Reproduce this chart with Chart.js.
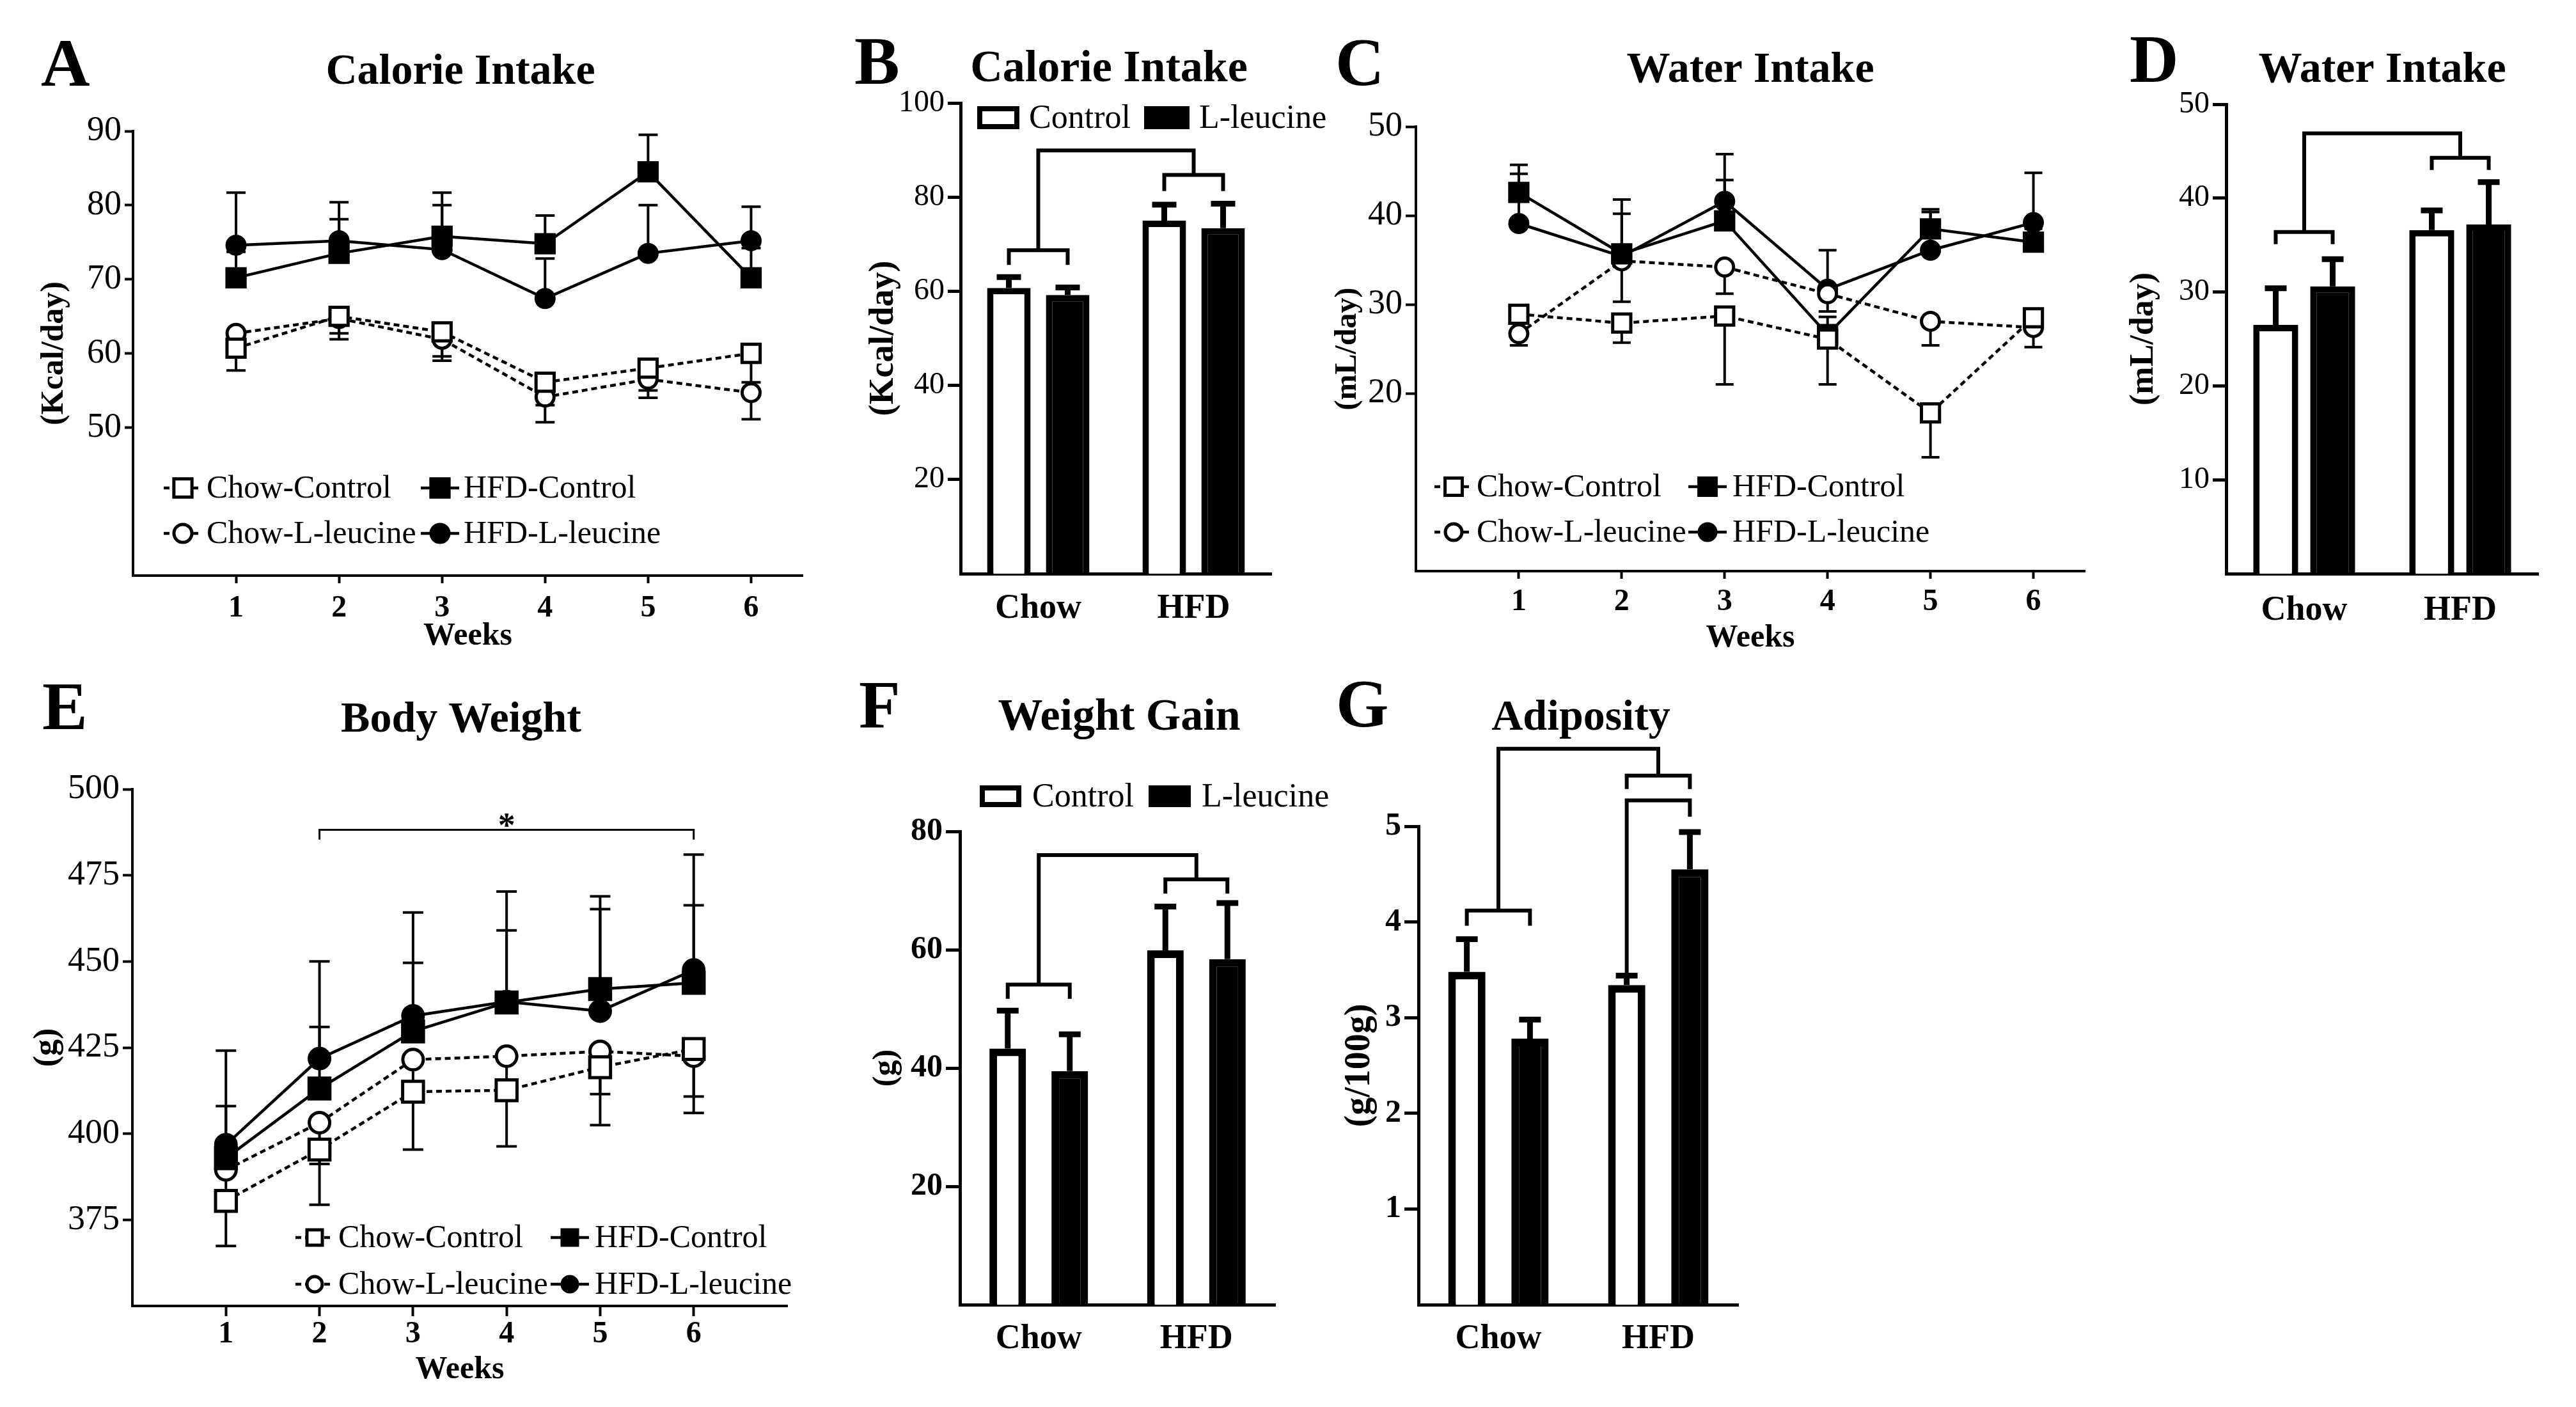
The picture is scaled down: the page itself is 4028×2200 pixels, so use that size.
<!DOCTYPE html>
<html>
<head>
<meta charset="utf-8">
<script src="https://cdn.jsdelivr.net/npm/chart.js@4.4.0/dist/chart.umd.min.js"></script>
<style>
  html, body { margin: 0; padding: 0; background: #fff; }
  #fig { position: relative; width: 4028px; height: 2200px; background: #fff; overflow: hidden; }
  #fig canvas { position: absolute; }
</style>
</head>
<body>
<div id="fig"></div>
<script>
// ---- data ----
const weeks = [1, 2, 3, 4, 5, 6];
const groups = ['Chow', 'HFD'];
const seriesNames = ['Chow-Control', 'HFD-Control', 'Chow-L-leucine', 'HFD-L-leucine'];
const barNames = ['Control', 'L-leucine'];

// A: calorie intake (Kcal/day)
const calChowCtl = [60.7, 65.0, 62.9, 56.1, 58.0, 60.0];
const calHfdCtl  = [70.2, 73.5, 75.8, 74.8, 84.5, 70.2];
const calChowLeu = [62.7, 64.7, 61.9, 54.1, 56.5, 54.7];
const calHfdLeu  = [74.6, 75.2, 74.0, 67.4, 73.5, 75.2];
const calChowCtlErr = [3.0, 3.1, 3.9, 3.1, 3.0, 3.9];
const calHfdCtlErr  = [3.5, 4.6, 5.9, 3.8, 5.0, 4.0];
const calChowLeuErr = [1.5, 2.0, 2.3, 3.4, 2.5, 3.6];
const calHfdLeuErr  = [7.1, 5.2, 6.0, 5.4, 6.5, 4.6];

// B: mean calorie intake
const calBarCtl = [60.7, 75.0];
const calBarLeu = [59.2, 73.4];
const calBarCtlErr = [2.3, 3.4];
const calBarLeuErr = [1.6, 5.2];

// C: water intake (mL/day)
const watChowCtl = [28.9, 27.9, 28.7, 26.1, 17.8, 28.5];
const watHfdCtl  = [42.6, 35.7, 39.4, 26.6, 38.5, 37.0];
const watChowLeu = [26.7, 34.9, 34.2, 31.2, 28.1, 27.4];
const watHfdLeu  = [39.1, 35.4, 41.6, 31.7, 36.1, 39.2];
const watChowCtlErr = [3.5, 2.2, 7.7, 5.1, 5.0, 1.0];
const watHfdCtlErr  = [3.1, 6.1, 4.6, 2.0, 2.2, 1.5];
const watChowLeuErr = [1.3, 4.6, 3.0, 2.0, 2.7, 2.2];
const watHfdLeuErr  = [5.6, 4.8, 5.3, 4.4, 4.3, 5.6];

// D: mean water intake
const watBarCtl = [26.5, 36.6];
const watBarLeu = [30.6, 37.2];
const watBarCtlErr = [3.9, 2.1];
const watBarLeuErr = [2.9, 4.5];

// E: body weight (g)
const bwChowCtl = [380.5, 395.4, 412.2, 412.6, 419.3, 424.6];
const bwHfdCtl  = [392.9, 413.1, 429.7, 438.1, 442.0, 443.8];
const bwChowLeu = [389.5, 403.2, 421.5, 422.5, 423.9, 422.5];
const bwHfdLeu  = [396.8, 421.8, 434.2, 438.3, 435.6, 447.5];
const bwChowCtlErr = [13.1, 16.0, 16.8, 16.3, 16.8, 18.6];
const bwHfdCtlErr  = [15.1, 17.9, 19.9, 20.9, 26.9, 22.5];
const bwChowLeuErr = [9.0, 12.0, 9.0, 9.0, 12.4, 11.7];
const bwHfdLeuErr  = [27.3, 28.2, 30.0, 32.0, 29.6, 33.5];

// F: weight gain (g)
const gainCtl = [43.3, 59.9];
const gainLeu = [39.5, 58.4];
const gainCtlErr = [6.4, 7.4];
const gainLeuErr = [6.2, 9.5];

// G: adiposity (g/100g)
const adiCtl = [3.48, 3.34];
const adiLeu = [2.78, 4.55];
const adiCtlErr = [0.34, 0.10];
const adiLeuErr = [0.20, 0.39];

// ---- styles ----
const SERIF = '"Liberation Serif", "Times New Roman", serif';
Chart.defaults.font.family = SERIF;
Chart.defaults.color = '#000';

const lineStyles = [
  { dash: [9, 6], shape: 'rect',   fill: '#fff', dir: -1 },
  { dash: [],     shape: 'rect',   fill: '#000', dir: 1 },
  { dash: [9, 6], shape: 'circle', fill: '#fff', dir: -1 },
  { dash: [],     shape: 'circle', fill: '#000', dir: 1 }
];

function lineDatasets(values, errors, sq, ci) {
  return values.map((vals, i) => {
    const st = lineStyles[i];
    return {
      label: seriesNames[i],
      data: weeks.map((w, j) => ({ x: w, y: vals[j] })),
      errors: errors[i],
      errDir: st.dir,
      borderColor: '#000',
      borderWidth: 4.5,
      borderDash: st.dash,
      pointStyle: st.shape,
      pointRadius: st.shape === 'rect' ? sq : ci,
      pointBackgroundColor: st.fill,
      pointBorderColor: '#000',
      pointBorderWidth: 5,
      tension: 0,
      fill: false
    };
  });
}

function barDatasets(ctl, leu, ctlErr, leuErr, bw, bp, cp) {
  return [[ctl, ctlErr, '#fff'], [leu, leuErr, '#000']].map(([d, e, c], i) => ({
    label: barNames[i],
    data: d,
    errors: e,
    errDir: 1,
    backgroundColor: c,
    borderColor: '#000',
    borderWidth: bw,
    barPercentage: bp,
    categoryPercentage: cp
  }));
}

function marker(ctx, shape, x, y, r, fill, bw) {
  ctx.save();
  ctx.setLineDash([]);
  ctx.lineWidth = bw;
  ctx.strokeStyle = '#000';
  ctx.fillStyle = fill;
  ctx.beginPath();
  if (shape === 'rect') {
    const s = r * Math.SQRT1_2;
    ctx.rect(x - s, y - s, 2 * s, 2 * s);
  } else {
    ctx.arc(x, y, r, 0, Math.PI * 2);
  }
  ctx.fill();
  ctx.stroke();
  ctx.restore();
}

function drawErrorBars(chart, p) {
  const ctx = chart.ctx, ys = chart.scales.y;
  ctx.save();
  ctx.strokeStyle = '#000';
  ctx.lineWidth = p.errW;
  ctx.setLineDash([]);
  chart.data.datasets.forEach((ds, i) => {
    if (!ds.errors) return;
    chart.getDatasetMeta(i).data.forEach((el, j) => {
      const raw = ds.data[j];
      const v = typeof raw === 'object' ? raw.y : raw;
      const y0 = ys.getPixelForValue(v);
      const y1 = ys.getPixelForValue(v + ds.errDir * ds.errors[j]);
      ctx.beginPath();
      ctx.moveTo(el.x, y0);
      ctx.lineTo(el.x, y1);
      ctx.moveTo(el.x - p.capW / 2, y1);
      ctx.lineTo(el.x + p.capW / 2, y1);
      ctx.stroke();
    });
  });
  ctx.restore();
}

function drawBrackets(chart, p) {
  if (!p.brackets) return;
  const ctx = chart.ctx;
  const ys = v => chart.scales.y.getPixelForValue(v);
  const xs = v => chart.scales.x.getPixelForValue(v);
  const barX = (ds, idx) => chart.getDatasetMeta(ds).data[idx].x;
  const mid = cat => (barX(0, cat) + barX(1, cat)) / 2;
  ctx.save();
  ctx.strokeStyle = '#000';
  ctx.lineWidth = p.bracketW;
  ctx.lineJoin = 'miter';
  ctx.setLineDash([]);
  p.brackets.forEach(b => {
    ctx.beginPath();
    if (b.kind === 'pair') {
      const x1 = barX(0, b.cat), x2 = barX(1, b.cat);
      ctx.moveTo(x1, ys(b.legs[0]));
      ctx.lineTo(x1, ys(b.y));
      ctx.lineTo(x2, ys(b.y));
      ctx.lineTo(x2, ys(b.legs[1]));
    } else if (b.kind === 'link') {
      const xa = mid(b.from), xb = mid(b.to);
      ctx.moveTo(xa, ys(b.fromY));
      ctx.lineTo(xa, ys(b.top));
      ctx.lineTo(xb, ys(b.top));
      ctx.lineTo(xb, ys(b.toY));
    } else if (b.kind === 'span') {
      ctx.moveTo(xs(b.x1), ys(b.leg));
      ctx.lineTo(xs(b.x1), ys(b.y));
      ctx.lineTo(xs(b.x2), ys(b.y));
      ctx.lineTo(xs(b.x2), ys(b.leg));
    }
    ctx.stroke();
    if (b.text) {
      ctx.fillStyle = '#000';
      ctx.font = 'bold 54px ' + SERIF;
      ctx.textAlign = 'center';
      ctx.textBaseline = 'alphabetic';
      ctx.fillText(b.text, xs((b.x1 + b.x2) / 2), ys(b.y) + 10);
    }
  });
  ctx.restore();
}

function decorPlugin(p) {
  return {
    id: 'decor',
    beforeDatasetsDraw(chart) { drawErrorBars(chart, p); },
    afterDraw(chart) {
      drawBrackets(chart, p);
      const ctx = chart.ctx;
      ctx.save();
      ctx.translate(-p.L, -p.T);   // page coordinates below
      ctx.fillStyle = '#000';
      ctx.textBaseline = 'alphabetic';
      ctx.textAlign = 'left';
      ctx.font = 'bold 106px ' + SERIF;
      ctx.fillText(p.letter[0], p.letter[1], p.letter[2]);
      ctx.textAlign = 'center';
      ctx.font = 'bold ' + p.title[3] + 'px ' + SERIF;
      ctx.fillText(p.title[0], p.title[1], p.title[2]);

      if (p.lineLegend) {
        const lg = p.lineLegend;
        chart.data.datasets.forEach((ds, i) => {
          const [cx, cy, tx] = lg.items[i];
          ctx.save();
          ctx.lineWidth = ds.borderWidth;
          ctx.strokeStyle = '#000';
          ctx.setLineDash(ds.borderDash);
          ctx.beginPath();
          ctx.moveTo(cx - lg.half, cy);
          ctx.lineTo(cx + lg.half, cy);
          ctx.stroke();
          ctx.restore();
          const r = ds.pointStyle === 'rect' ? lg.sq : lg.ci;
          marker(ctx, ds.pointStyle, cx, cy, r, ds.pointBackgroundColor, ds.pointBorderWidth);
          ctx.fillStyle = '#000';
          ctx.font = lg.font + 'px ' + SERIF;
          ctx.textAlign = 'left';
          ctx.textBaseline = 'middle';
          ctx.fillText(ds.label, tx, cy + 2);
        });
      }
      if (p.barLegend) {
        const bl = p.barLegend;
        chart.data.datasets.forEach((ds, i) => {
          const [bx, bw, tx] = bl.items[i];
          const top = bl.y - bl.h / 2;
          ctx.fillStyle = ds.backgroundColor;
          ctx.fillRect(bx, top, bw, bl.h);
          ctx.lineWidth = bl.border;
          ctx.strokeStyle = '#000';
          ctx.strokeRect(bx + bl.border / 2, top + bl.border / 2, bw - bl.border, bl.h - bl.border);
          ctx.fillStyle = '#000';
          ctx.font = bl.font + 'px ' + SERIF;
          ctx.textAlign = 'left';
          ctx.textBaseline = 'middle';
          ctx.fillText(ds.label, tx, bl.y + 2);
        });
      }
      ctx.restore();
    }
  };
}

const fig = document.getElementById('fig');

function makePanel(p) {
  const cv = document.createElement('canvas');
  cv.width = p.W;
  cv.height = p.H;
  cv.style.left = p.L + 'px';
  cv.style.top = p.T + 'px';
  fig.appendChild(cv);
  const lh = s => s * 1.2;
  const xH = p.T + p.H - p.axis.bottom;
  const yW = p.axis.left - p.L;
  const xTL = p.xTickLen || 0;

  const xCfg = Object.assign({
    border: { display: true, color: '#000', width: p.axisW },
    grid: { display: true, drawOnChartArea: false, drawTicks: xTL > 0, tickLength: xTL, tickWidth: p.axisW, tickColor: '#000' },
    ticks: { color: '#000', autoSkip: false, maxRotation: 0,
             font: { size: p.xFont, weight: 'bold' },
             padding: Math.max(0, p.xLabelY - p.axis.bottom - xTL - lh(p.xFont) / 2) },
    title: p.xTitle ? { display: true, text: p.xTitle, color: '#000',
                        font: { size: p.xTitleFont, weight: 'bold' },
                        padding: { top: 0, bottom: p.T + p.H - p.xTitleY - lh(p.xTitleFont) / 2 } }
                    : { display: false },
    afterFit: s => { s.height = xH; }
  }, p.xScale);

  const yCfg = {
    min: p.yMin, max: p.yMax,
    border: { display: true, color: '#000', width: p.axisW },
    grid: { display: true, drawOnChartArea: false, drawTicks: true, tickLength: p.yTickLen, tickWidth: p.axisW, tickColor: '#000' },
    ticks: { stepSize: p.yStep, color: '#000', padding: 5,
             font: { size: p.yFont, weight: p.yBold ? 'bold' : 'normal' } },
    title: { display: true, text: p.yTitle, color: '#000',
             font: { size: p.yTitleFont, weight: 'bold' },
             padding: { top: p.yTitleX - p.L - lh(p.yTitleFont) / 2, bottom: 0 } },
    afterBuildTicks: s => { s.ticks = s.ticks.filter(t => t.value >= p.yFirst - 1e-9); },
    afterFit: s => { s.width = yW; }
  };

  new Chart(cv, {
    type: p.type,
    data: { labels: p.labels, datasets: p.datasets },
    options: {
      responsive: false,
      animation: false,
      events: [],
      devicePixelRatio: 1,
      layout: { autoPadding: false,
                padding: { left: 0, bottom: 0, top: p.axis.top - p.T, right: p.L + p.W - p.axis.right } },
      plugins: { legend: { display: false }, tooltip: { enabled: false }, title: { display: false } },
      scales: { x: xCfg, y: yCfg }
    },
    plugins: [decorPlugin(p)]
  });
}

const weekAxis = max => ({
  type: 'linear', min: 0, max: max,
  afterBuildTicks: s => { s.ticks = weeks.map(v => ({ value: v })); }
});

// A
makePanel({
  type: 'line', L: 40, T: 0, W: 1260, H: 1040,
  axis: { left: 208, top: 205, right: 1255, bottom: 900 }, axisW: 4,
  xScale: weekAxis(6.5), xTickLen: 12, xFont: 48, xLabelY: 952,
  xTitle: 'Weeks', xTitleFont: 50, xTitleY: 995,
  yMin: 30, yMax: 90, yStep: 10, yFirst: 50, yTickLen: 13, yFont: 54,
  yTitle: '(Kcal/day)', yTitleFont: 50, yTitleX: 85,
  letter: ['A', 64, 134], title: ['Calorie Intake', 720, 131, 68],
  datasets: lineDatasets([calChowCtl, calHfdCtl, calChowLeu, calHfdLeu],
                         [calChowCtlErr, calHfdCtlErr, calChowLeuErr, calHfdLeuErr], 20, 14),
  lineLegend: { font: 50, half: 30, sq: 20, ci: 14,
                items: [[286, 763, 323], [688, 763, 725], [286, 834, 323], [688, 834, 725]] },
  errW: 4, capW: 30
});

// B
makePanel({
  type: 'bar', L: 1310, T: 0, W: 800, H: 1040,
  axis: { left: 1502, top: 161, right: 1988, bottom: 897 }, axisW: 5,
  labels: groups, xScale: { type: 'category' }, xTickLen: 0, xFont: 54, xLabelY: 952,
  yMin: 0, yMax: 100, yStep: 20, yFirst: 20, yTickLen: 20, yFont: 48,
  yTitle: '(Kcal/day)', yTitleFont: 54, yTitleX: 1382,
  letter: ['B', 1336, 131], title: ['Calorie Intake', 1734, 127, 70],
  datasets: barDatasets(calBarCtl, calBarLeu, calBarCtlErr, calBarLeuErr, 10, 0.74, 0.757),
  barLegend: { y: 184, h: 36, border: 8, font: 52, items: [[1528, 66, 1609], [1789, 71, 1875]] },
  brackets: [
    { kind: 'pair', cat: 0, y: 68.7, legs: [65.6, 65.6] },
    { kind: 'pair', cat: 1, y: 84.7, legs: [81.3, 81.3] },
    { kind: 'link', from: 0, to: 1, fromY: 68.7, toY: 84.7, top: 89.9 }
  ],
  bracketW: 6, errW: 9, capW: 38
});

// C
makePanel({
  type: 'line', L: 2060, T: 0, W: 1250, H: 1040,
  axis: { left: 2214, top: 198, right: 3260, bottom: 893 }, axisW: 4,
  xScale: weekAxis(6.5), xTickLen: 12, xFont: 48, xLabelY: 942,
  xTitle: 'Weeks', xTitleFont: 50, xTitleY: 998,
  yMin: 0, yMax: 50, yStep: 10, yFirst: 20, yTickLen: 16, yFont: 54,
  yTitle: '(mL/day)', yTitleFont: 48, yTitleX: 2108,
  letter: ['C', 2088, 133], title: ['Water Intake', 2737, 128, 68],
  datasets: lineDatasets([watChowCtl, watHfdCtl, watChowLeu, watHfdLeu],
                         [watChowCtlErr, watHfdCtlErr, watChowLeuErr, watHfdLeuErr], 20, 14),
  lineLegend: { font: 50, half: 30, sq: 19, ci: 13,
                items: [[2273, 761, 2309], [2670, 761, 2709], [2273, 832, 2309], [2670, 832, 2709]] },
  errW: 4, capW: 28
});

// D
makePanel({
  type: 'bar', L: 3300, T: 0, W: 728, H: 1040,
  axis: { left: 3481, top: 163, right: 3969, bottom: 897 }, axisW: 5,
  labels: groups, xScale: { type: 'category' }, xTickLen: 0, xFont: 54, xLabelY: 955,
  yMin: 0, yMax: 50, yStep: 10, yFirst: 10, yTickLen: 21, yFont: 48,
  yTitle: '(mL/day)', yTitleFont: 52, yTitleX: 3353,
  letter: ['D', 3330, 128], title: ['Water Intake', 3725, 128, 68],
  datasets: barDatasets(watBarCtl, watBarLeu, watBarCtlErr, watBarLeuErr, 10, 0.79, 0.73),
  brackets: [
    { kind: 'pair', cat: 0, y: 36.4, legs: [35.1, 35.1] },
    { kind: 'pair', cat: 1, y: 44.3, legs: [43.0, 43.0] },
    { kind: 'link', from: 0, to: 1, fromY: 36.4, toY: 44.3, top: 46.9 }
  ],
  bracketW: 6, errW: 9, capW: 34
});

// E
makePanel({
  type: 'line', L: 40, T: 1040, W: 1260, H: 1160,
  axis: { left: 207, top: 1234, right: 1231, bottom: 2042 }, axisW: 4,
  xScale: weekAxis(7), xTickLen: 16, xFont: 48, xLabelY: 2087,
  xTitle: 'Weeks', xTitleFont: 50, xTitleY: 2142,
  yMin: 350, yMax: 500, yStep: 25, yFirst: 375, yTickLen: 15, yFont: 54,
  yTitle: '(g)', yTitleFont: 52, yTitleX: 75,
  letter: ['E', 66, 1140], title: ['Body Weight', 721, 1144, 68],
  datasets: lineDatasets([bwChowCtl, bwHfdCtl, bwChowLeu, bwHfdLeu],
                         [bwChowCtlErr, bwHfdCtlErr, bwChowLeuErr, bwHfdLeuErr], 23, 16),
  lineLegend: { font: 50, half: 30, sq: 17, ci: 12,
                items: [[492, 1935, 529], [891, 1935, 930], [492, 2008, 529], [891, 2008, 930]] },
  brackets: [{ kind: 'span', x1: 2, x2: 6, y: 488.2, leg: 485.4, text: '*' }],
  bracketW: 3, errW: 4, capW: 32
});

// F
makePanel({
  type: 'bar', L: 1310, T: 1040, W: 790, H: 1160,
  axis: { left: 1501, top: 1300, right: 1994, bottom: 2040 }, axisW: 5,
  labels: groups, xScale: { type: 'category' }, xTickLen: 0, xFont: 54, xLabelY: 2094,
  yMin: 0, yMax: 80, yStep: 20, yFirst: 20, yTickLen: 22, yFont: 50, yBold: true,
  yTitle: '(g)', yTitleFont: 50, yTitleX: 1386,
  letter: ['F', 1343, 1138], title: ['Weight Gain', 1750, 1141, 70],
  datasets: barDatasets(gainCtl, gainLeu, gainCtlErr, gainLeuErr, 12, 0.59, 0.787),
  barLegend: { y: 1245, h: 34, border: 8, font: 52, items: [[1532, 65, 1614], [1796, 66, 1879]] },
  brackets: [
    { kind: 'pair', cat: 0, y: 54.1, legs: [51.7, 51.7] },
    { kind: 'pair', cat: 1, y: 71.9, legs: [69.5, 69.5] },
    { kind: 'link', from: 0, to: 1, fromY: 54.1, toY: 71.9, top: 76.0 }
  ],
  bracketW: 6, errW: 9, capW: 34
});

// G
makePanel({
  type: 'bar', L: 2060, T: 1040, W: 700, H: 1160,
  axis: { left: 2218, top: 1292, right: 2718, bottom: 2040 }, axisW: 5,
  labels: groups, xScale: { type: 'category' }, xTickLen: 0, xFont: 54, xLabelY: 2094,
  yMin: 0, yMax: 5, yStep: 1, yFirst: 1, yTickLen: 22, yFont: 50, yBold: true,
  yTitle: '(g/100g)', yTitleFont: 56, yTitleX: 2127,
  letter: ['G', 2089, 1136], title: ['Adiposity', 2472, 1141, 68],
  datasets: barDatasets(adiCtl, adiLeu, adiCtlErr, adiLeuErr, 12, 0.59, 0.79),
  brackets: [
    { kind: 'pair', cat: 0, y: 4.12, legs: [3.96, 3.96] },
    { kind: 'pair', cat: 1, y: 5.53, legs: [5.39, 5.39] },
    { kind: 'pair', cat: 1, y: 5.27, legs: [3.44, 5.10] },
    { kind: 'link', from: 0, to: 1, fromY: 4.12, toY: 5.53, top: 5.81 }
  ],
  bracketW: 6, errW: 9, capW: 34
});
</script>
</body>
</html>
